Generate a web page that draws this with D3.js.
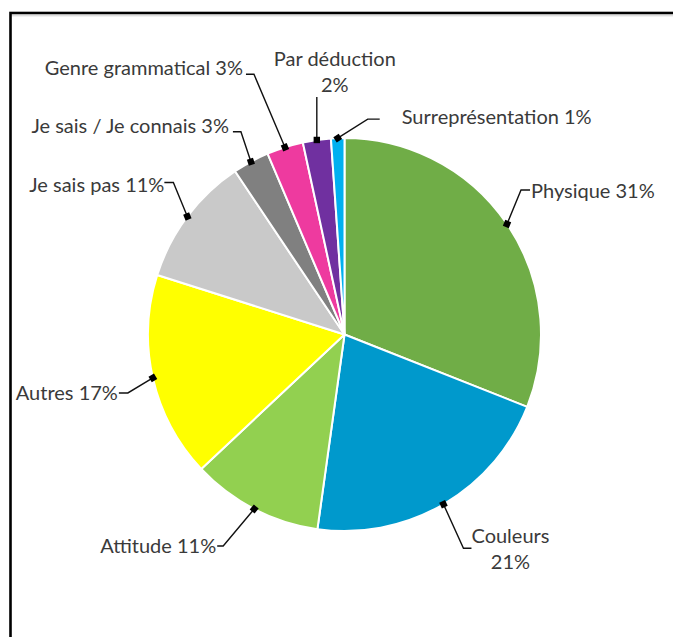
<!DOCTYPE html>
<html>
<head>
<meta charset="utf-8">
<script src="https://cdn.jsdelivr.net/npm/d3@7"></script>
<style>
  html, body { margin: 0; padding: 0; background: #fff; }
  svg { display: block; }
  text { font-family: Lato, "Open Sans", sans-serif; fill: #3a3a3a; }
</style>
</head>
<body>
<svg id="chart" width="673" height="637"></svg>
<script>
// ---- data ----
const categories = ["Physique", "Couleurs", "Attitude", "Autres", "Je sais pas",
  "Je sais / Je connais", "Genre grammatical", "Par déduction", "Surreprésentation"];
const values = [31.0, 21.2, 10.8, 16.9, 10.7, 3.0, 3.0, 2.3, 1.1];
const colors = ["#70AD47", "#0099CC", "#92D050", "#FFFF00", "#C9C9C9",
  "#808080", "#EE3A9F", "#7030A0", "#00B0F0"];

// ---- layout (label callouts, relative to the leader dot) ----
const labelLayout = [
  {elbow: [14, -34], end: [23, -34], text: [24, -33], anchor: "start", lines: 1},
  {elbow: [20, 44], end: [28, 44], text: [67, 32], anchor: "middle", lines: 2},
  {elbow: [-31, 37], end: [-37, 37], text: [-38, 37], anchor: "end", lines: 1},
  {elbow: [-25, 15], end: [-34, 15], text: [-35, 15], anchor: "end", lines: 1},
  {elbow: [-14, -34], end: [-23, -34], text: [-23, -32], anchor: "end", lines: 1},
  {elbow: [-10, -30], end: [-18, -30], text: [-22, -36], anchor: "end", lines: 1},
  {elbow: [-31, -73], end: [-39, -73], text: [-42, -79], anchor: "end", lines: 1},
  {elbow: [0, -43], end: [0, -43], text: [18, -81], anchor: "middle", lines: 2},
  {elbow: [30, -19], end: [42, -19], text: [64, -21], anchor: "start", lines: 1}
];

const svg = d3.select("#chart");
const cx = 344.5, cy = 334.5, R = 196.5;

// frame
svg.append("line").attr("x1", 11).attr("x2", 700).attr("y1", 15.8).attr("y2", 15.8)
  .attr("stroke", "#d0d0d0").attr("stroke-width", 1);
svg.append("rect").attr("x", 10.5).attr("y", 13).attr("width", 700).attr("height", 700)
  .attr("fill", "none").attr("stroke", "#000").attr("stroke-width", 2.6);

const pie = d3.pie().sort(null).value(d => d)(values);
const arc = d3.arc().innerRadius(0).outerRadius(R);

const g = svg.append("g").attr("transform", `translate(${cx},${cy})`);
g.selectAll("path.slice").data(pie).join("path")
  .attr("class", "slice")
  .attr("d", arc)
  .attr("fill", (d, i) => colors[i])
  .attr("stroke", "#fff")
  .attr("stroke-width", 2)
  .attr("stroke-linejoin", "round");

// labels
const fs = 20;
pie.forEach((d, i) => {
  const mid = (d.startAngle + d.endAngle) / 2;
  const px = R * Math.sin(mid), py = -R * Math.cos(mid);
  const L = labelLayout[i];
  const pts = [[px, py], [px + L.elbow[0], py + L.elbow[1]], [px + L.end[0], py + L.end[1]]];
  g.append("path")
    .attr("d", d3.line()(pts))
    .attr("fill", "none").attr("stroke", "#111").attr("stroke-width", 1.4);
  const ang = Math.atan2(L.elbow[1], L.elbow[0]) * 180 / Math.PI;
  g.append("rect")
    .attr("x", -3.2).attr("y", -3.2).attr("width", 6.4).attr("height", 6.4)
    .attr("fill", "#000")
    .attr("transform", `translate(${px},${py}) rotate(${ang})`);
  const pct = Math.round(values[i]) + "%";
  const t = g.append("text")
    .attr("text-anchor", L.anchor)
    .attr("font-size", fs)
    .attr("x", px + L.text[0]);
  if (L.lines === 1) {
    t.attr("y", py + L.text[1]).attr("dy", "0.35em").text(categories[i] + " " + pct);
  } else {
    t.append("tspan").attr("x", px + L.text[0]).attr("y", py + L.text[1]).attr("dy", "0.35em").text(categories[i]);
    t.append("tspan").attr("x", px + L.text[0]).attr("y", py + L.text[1] + 26).attr("dy", "0.35em").text(pct);
  }
});
</script>
</body>
</html>
